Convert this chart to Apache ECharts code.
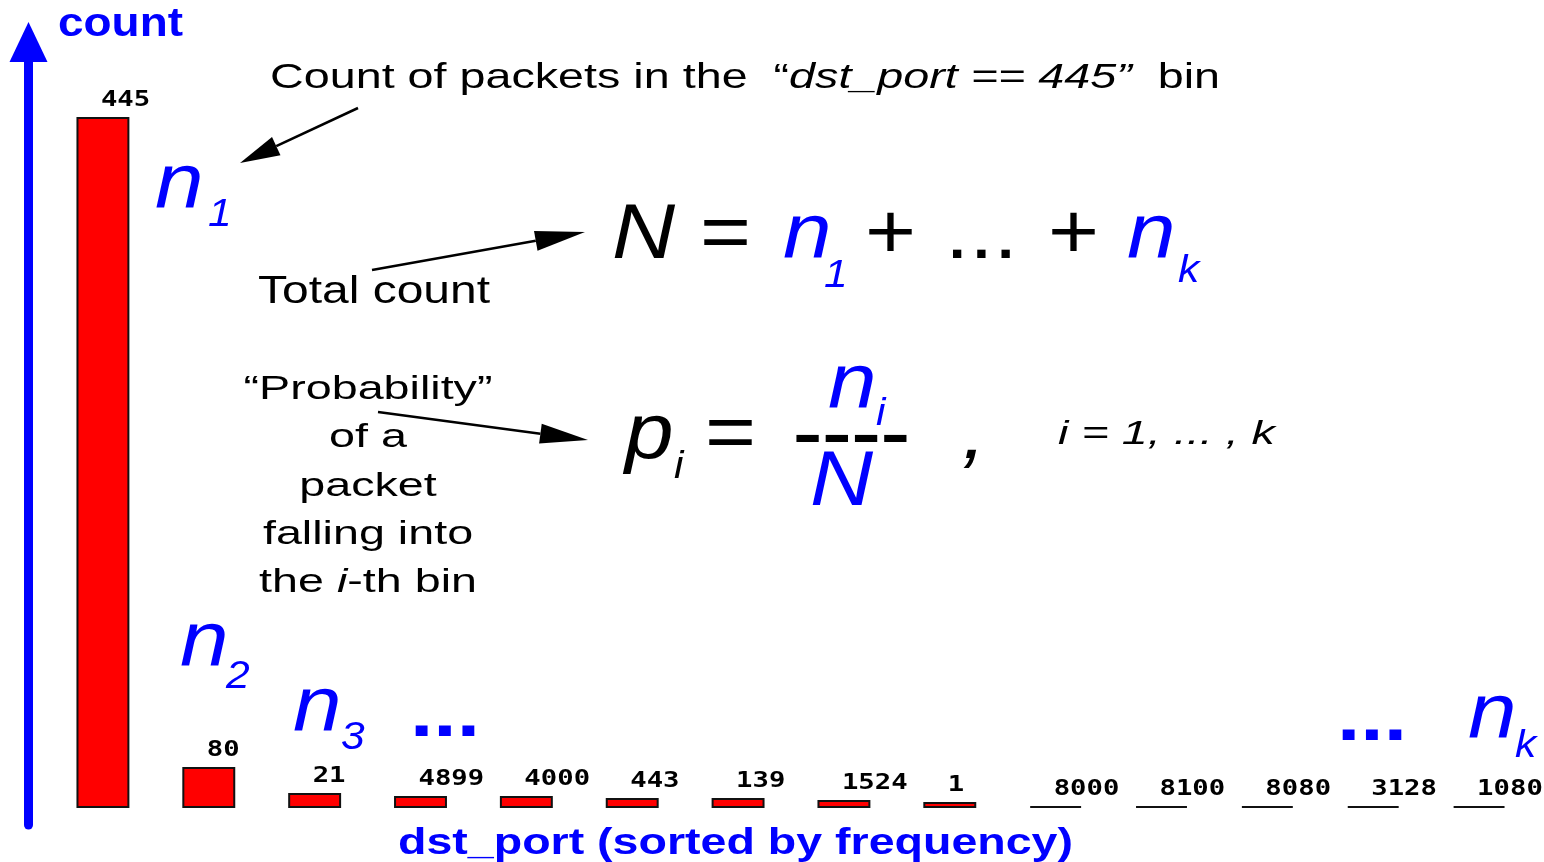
<!DOCTYPE html>
<html>
<head>
<meta charset="utf-8">
<script src="https://cdn.jsdelivr.net/npm/echarts/dist/echarts.min.js"></script>
<style>
  html, body { margin: 0; padding: 0; background: #fff; }
  #chart { width: 1544px; height: 862px; }
</style>
</head>
<body>
<div id="chart"></div>
<script>
// dst_port bins, sorted by frequency, and their (relative) packet counts
const ports = ['445', '80', '21', '4899', '4000', '443', '139', '1524', '1', '8000', '8100', '8080', '3128', '1080'];
const counts = [691, 41, 15, 12, 12, 10, 10, 8, 6, 2, 2, 2, 2, 2];

const BLUE = '#0000ff';
const SANS = '"Liberation Sans", Arial, sans-serif';

const ctx = document.createElement('canvas').getContext('2d');
function fnt(size, style, weight) {
  return (style || 'normal') + ' ' + (weight || 'normal') + ' ' + size + 'px ' + SANS;
}
function tw(text, font) {
  ctx.font = font;
  return ctx.measureText(text).width;
}

const els = [];
// one text piece, left edge + baseline, stretched horizontally by sx
function put(text, font, size, fill, left, base, sx) {
  els.push({
    type: 'text', x: left, y: base - 0.3 * size, scaleX: sx || 1, z: 10,
    style: { text: text, font: font, fill: fill, align: 'left', verticalAlign: 'middle',
             textAlign: 'left', textVerticalAlign: 'middle' }
  });
}
// a row of segments [text, font, fill] fitted to width w (or stretched by sx)
function row(segs, size, left, base, w, sx) {
  const ws = segs.map(s => tw(s[0], s[1]));
  const total = ws.reduce((a, b) => a + b, 0);
  const k = w ? w / total : sx;
  let x = left;
  segs.forEach((s, i) => { put(s[0], s[1], size, s[2], x, base, k); x += ws[i] * k; });
  return k;
}
function centered(segs, size, cx, base, k) {
  const total = segs.map(s => tw(s[0], s[1])).reduce((a, b) => a + b, 0);
  row(segs, size, cx - total * k / 2, base, null, k);
}
function arrow(x1, y1, x2, y2, len, half) {
  const L = Math.hypot(x2 - x1, y2 - y1);
  const ux = (x2 - x1) / L, uy = (y2 - y1) / L;
  const bx = x2 - ux * len, by = y2 - uy * len;
  els.push({ type: 'line', z: 10, shape: { x1: x1, y1: y1, x2: bx, y2: by },
             style: { stroke: '#000', lineWidth: 2.5 } });
  els.push({ type: 'polygon', z: 10,
             shape: { points: [[x2, y2], [bx - uy * half, by + ux * half], [bx + uy * half, by - ux * half]] },
             style: { fill: '#000' } });
}

// axis titles
row([['count', fnt(40, 'normal', 'bold'), BLUE]], 40, 58, 37, 125);
row([['dst_port (sorted by frequency)', fnt(36, 'normal', 'bold'), BLUE]], 36, 398, 855, 675);

// top note
row([
  ['Count of packets in the  \u201c', fnt(35), '#000'],
  ['dst_port == 445\u201d', fnt(35, 'italic'), '#000'],
  ['  bin', fnt(35), '#000']
], 35, 270, 89, 950);
arrow(358, 108, 240, 163, 40, 10);

// n labels
const BIG = 78, SUB = 38, SXM = 1.12;
function nsub(left, base, sub, subLeft, subBase, color) {
  put('n', fnt(BIG, 'italic'), BIG, color || BLUE, left, base, SXM);
  put(sub, fnt(SUB, 'italic'), SUB, color || BLUE, subLeft, subBase, SXM);
}
nsub(155, 210, '1', 208, 227);
nsub(180, 668, '2', 226, 689);
nsub(293, 733, '3', 341, 750);
put('...', fnt(70, 'normal', 'bold'), 70, BLUE, 410, 738, 1.2);
put('...', fnt(70, 'normal', 'bold'), 70, BLUE, 1337, 742, 1.2);
nsub(1468, 740, 'k', 1515, 758);

// total count
row([['Total count', fnt(38), '#000']], 38, 258, 304, 232);
arrow(372, 270, 585, 232, 50, 10);
put('N', fnt(BIG, 'italic'), BIG, '#000', 612, 260, SXM);
put('=', fnt(BIG), BIG, '#000', 700, 260, SXM);
nsub(783, 260, '1', 824, 288);
put('+', fnt(BIG), BIG, '#000', 865, 260, SXM);
put('...', fnt(BIG), BIG, '#000', 945, 260, SXM);
put('+', fnt(BIG), BIG, '#000', 1048, 260, SXM);
nsub(1127, 260, 'k', 1178, 283);

// probability
const PF = 33;
const pk = 249 / tw('\u201cProbability\u201d', fnt(PF));
centered([['\u201cProbability\u201d', fnt(PF), '#000']], PF, 368, 400, pk);
centered([['of a', fnt(PF), '#000']], PF, 368, 448, pk);
centered([['packet', fnt(PF), '#000']], PF, 368, 497, pk);
centered([['falling into', fnt(PF), '#000']], PF, 368, 545, pk);
centered([['the ', fnt(PF), '#000'], ['i', fnt(PF, 'italic'), '#000'], ['-th bin', fnt(PF), '#000']], PF, 368, 593, pk);
arrow(378, 412, 588, 440, 48, 10);

put('p', fnt(BIG, 'italic'), BIG, '#000', 625, 460, SXM);
put('i', fnt(SUB, 'italic'), SUB, '#000', 674, 479, SXM);
put('=', fnt(BIG), BIG, '#000', 705, 460, SXM);
nsub(828, 410, 'i', 876, 426);
row([['----', fnt(60, 'normal', 'bold'), '#000']], 60, 793, 455, 117);
put('N', fnt(BIG, 'italic'), BIG, BLUE, 810, 507, SXM);
put(',', fnt(BIG, 'italic'), BIG, '#000', 962, 460, SXM);
row([['i = 1, ... , k', fnt(34, 'italic'), '#000']], 34, 1058, 445, 217);

const chart = echarts.init(document.getElementById('chart'));
chart.setOption({
  animation: false,
  backgroundColor: '#fff',
  grid: { left: 50, right: 12, top: 42, bottom: 37 },
  xAxis: {
    type: 'category',
    data: ports,
    axisLine: { show: false },
    axisTick: { show: false },
    axisLabel: { show: false },
    splitLine: { show: false }
  },
  yAxis: {
    type: 'value',
    min: -17,
    max: 766,
    offset: 21.5,
    axisLine: {
      show: true,
      onZero: false,
      symbol: ['none', 'triangle'],
      symbolSize: [38, 40],
      lineStyle: { color: BLUE, width: 9 }
    },
    axisTick: { show: false },
    axisLabel: { show: false },
    splitLine: { show: false }
  },
  series: [
    {
      type: 'bar',
      data: counts,
      barWidth: '50%',
      itemStyle: { color: '#ff0000', borderColor: '#111', borderWidth: 2 }
    },
    {
      type: 'custom',
      data: counts.map((v, i) => [i, v]),
      z: 5,
      renderItem: function (params, api) {
        const p = api.coord([api.value(0), api.value(1)]);
        return {
          type: 'text',
          x: p[0] - 2,
          y: p[1] - 16,
          scaleX: 1.3,
          style: {
            text: ports[params.dataIndex],
            font: 'bold 21px "DejaVu Sans Mono", monospace',
            fill: '#000',
            align: 'left', verticalAlign: 'middle',
            textAlign: 'left', textVerticalAlign: 'middle'
          }
        };
      }
    }
  ],
  graphic: { elements: els }
});
</script>
</body>
</html>
